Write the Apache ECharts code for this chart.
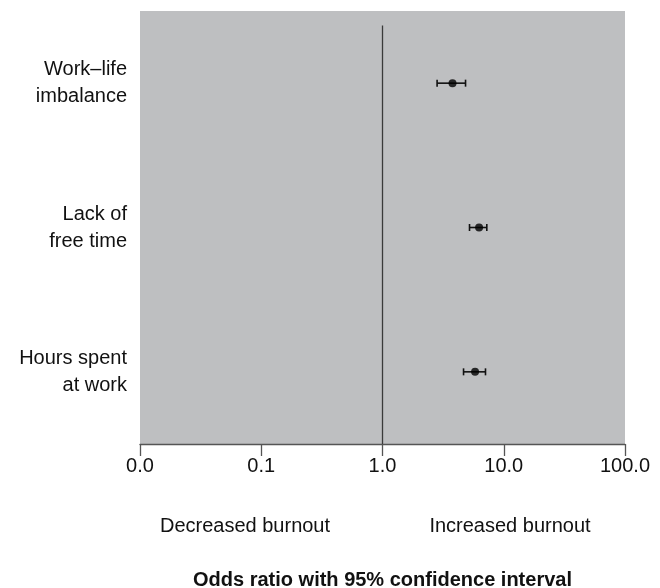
<!DOCTYPE html>
<html>
<head>
<meta charset="utf-8">
<script src="https://cdn.jsdelivr.net/npm/echarts@6/dist/echarts.min.js"></script>
<style>html,body{margin:0;padding:0;background:#fff}#c{width:660px;height:588px}</style>
</head>
<body>
<div id="c"></div>
<script>
var categories = ['Work\u2013life\nimbalance', 'Lack of\nfree time', 'Hours spent\nat work'];
var oddsRatio = [3.78, 6.26, 5.80];
var ciLow = [2.82, 5.22, 4.66];
var ciHigh = [4.84, 7.25, 7.07];
var xTicks = [0.01, 0.1, 1, 10, 100];
var refLineX = 1;
var refLineY = [0.1, 3];
var xTitle = 'Odds ratio with 95% confidence interval';
var sideLabels = ['Decreased burnout', 'Increased burnout'];

var FONT = '"Liberation Sans", Arial, sans-serif';
var chart = echarts.init(document.getElementById('c'));

var errData = categories.map(function (c, i) { return [ciLow[i], ciHigh[i], i]; });
var ptData = categories.map(function (c, i) { return [oddsRatio[i], c]; });

chart.setOption({
  animation: false,
  grid: { left: 140, right: 35, top: 11, bottom: 144, show: true, backgroundColor: '#bebfc1', borderWidth: 0,
    containLabel: false, outerBoundsMode: 'none' },
  xAxis: {
    type: 'log', logBase: 10, min: xTicks[0], max: xTicks[xTicks.length - 1],
    position: 'bottom',
    axisLine: { show: true, onZero: false, lineStyle: { color: '#555', width: 1.3 } },
    axisTick: { show: true, length: 12, lineStyle: { color: '#555', width: 1.3 } },
    splitLine: { show: false },
    axisLabel: { fontFamily: FONT, fontSize: 20, color: '#111', margin: 12,
      formatter: function (v) { return Number(v).toFixed(1); } },
    name: xTitle, nameLocation: 'middle', nameGap: 126,
    nameTextStyle: { fontFamily: FONT, fontSize: 20, fontWeight: 'bold', color: '#111' }
  },
  yAxis: [{
    type: 'category', data: categories, inverse: true,
    axisLine: { show: false }, axisTick: { show: false }, splitLine: { show: false },
    axisLabel: { fontFamily: FONT, fontSize: 20, color: '#111', lineHeight: 27, margin: 13, align: 'right',
      padding: [4, 0, 0, 0] }
  }, {
    type: 'value', min: 0, max: 3, inverse: true, show: false
  }],
  graphic: [
    { type: 'text', x: 245, y: 526, style: { text: sideLabels[0], font: '20px ' + FONT, fill: '#111', textAlign: 'center', textVerticalAlign: 'middle' } },
    { type: 'text', x: 510, y: 526, style: { text: sideLabels[1], font: '20px ' + FONT, fill: '#111', textAlign: 'center', textVerticalAlign: 'middle' } }
  ],
  series: [{
    type: 'line', yAxisIndex: 1, data: refLineY.map(function (y) { return [refLineX, y]; }),
    symbol: 'none', lineStyle: { color: '#3a3a3a', width: 1.3 }, silent: true
  }, {
    type: 'custom', yAxisIndex: 0, data: errData,
    encode: { x: [0, 1], y: 2 },
    renderItem: function (params, api) {
      var y = api.value(2);
      var a = api.coord([api.value(0), y]);
      var b = api.coord([api.value(1), y]);
      var h = 3.5;
      var st = { stroke: '#111', lineWidth: 1.6 };
      return { type: 'group', children: [
        { type: 'line', shape: { x1: a[0], y1: a[1], x2: b[0], y2: b[1] }, style: st },
        { type: 'line', shape: { x1: a[0], y1: a[1] - h, x2: a[0], y2: a[1] + h }, style: st },
        { type: 'line', shape: { x1: b[0], y1: b[1] - h, x2: b[0], y2: b[1] + h }, style: st }
      ] };
    }
  }, {
    type: 'scatter', yAxisIndex: 0, data: ptData, symbol: 'circle', symbolSize: 8,
    itemStyle: { color: '#000' }
  }]
});
</script>
</body>
</html>
